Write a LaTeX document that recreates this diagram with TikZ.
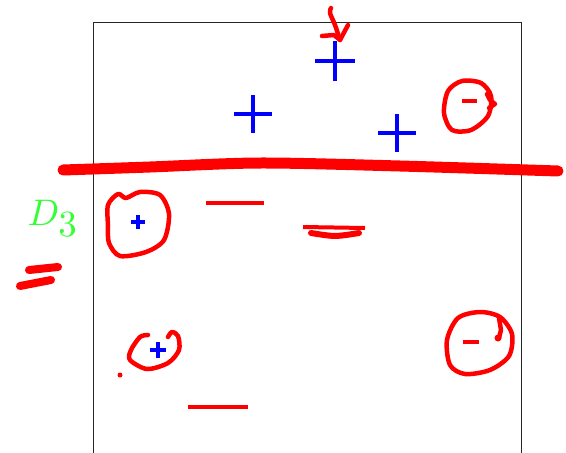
\documentclass[tikz,border=0pt]{standalone}
\usepackage{amsmath}
\usepackage{xcolor}
\usepackage{tikz}
\usetikzlibrary{arrows.meta,calc,positioning}
\definecolor{inkred}{HTML}{FF0000}
\definecolor{inkblue}{HTML}{0000FF}
\definecolor{inkgreen}{HTML}{33FF33}
\tikzset{
  frame/.style={black!85,line width=0.9pt},
  bluemark/.style={inkblue,line width=4pt},
  smallmark/.style={inkblue,line width=3.5pt},
  redstroke/.style={inkred,line width=4.5pt,line cap=round,line join=round},
  thinstroke/.style={inkred,line width=4pt},
  fatstroke/.style={inkred,line width=9pt,line cap=round}
}

\begin{document}
\begin{tikzpicture}[x=1pt,y=-1pt]
\useasboundingbox (0,0) rectangle (566,453);
\draw[frame] (93,460)--(93,22)--(521,22)--(521,460);
% blue pluses
\foreach \x/\y/\s in {335/61/20,253/114/19,397/133/19}{\draw[bluemark] (\x-\s,\y)--(\x+\s,\y) (\x,\y-\s)--(\x,\y+\s);}
\foreach \x/\y/\s in {138/222/7,158/350/8}{\draw[smallmark] (\x-\s,\y)--(\x+\s,\y) (\x,\y-\s)--(\x,\y+\s);}
% separating line
\draw[fatstroke,line width=11pt] plot[smooth] coordinates {(63,170) (150,167) (260,163) (400,166) (558,171)};
% minus marks
\draw[thinstroke] (206,203)--(264,203);
\draw[thinstroke] (188,407)--(248,407);
\draw[thinstroke] (303,227)--(365,228);
\draw[redstroke,line width=6pt] plot[smooth] coordinates {(311,233) (335,236) (359,233)};
\draw[thinstroke] (462,101)--(477,101);
\draw[thinstroke] (463,342)--(479,342);
% circles
\draw[redstroke] plot[smooth cycle] coordinates {(118,194) (126,198) (140,192) (160,195) (169,214) (164,240) (146,252) (120,256) (109,243) (108,226) (108,205)};
\draw[redstroke] plot[smooth cycle] coordinates {(448,91) (462,81) (481,83) (491,96) (488,116) (471,130) (452,130) (444,113)};
\draw[redstroke] (487,94)--(490,100)--(495,104)--(489,108);
\draw[redstroke] plot[smooth cycle] coordinates {(458,318) (480,312) (500,317) (512,334) (509,356) (490,370) (465,374) (450,365) (447,340)};
\draw[redstroke] (499,318)--(501,330)--(499,338);
\fill[inkred] (498,338) circle (3.5);
\draw[redstroke] plot[smooth] coordinates {(148,335) (140,337) (131,350) (130,360) (147,369) (168,363) (179,350) (178,336) (172,332) (168,337)};
\fill[inkred] (120,375) circle (2.5);
% arrow at the top
\draw[redstroke] plot[smooth] coordinates {(331,8) (330,13) (335,25) (340,40)};
\draw[redstroke] (322,36)--(334,35)--(340,40)--(348,25);
% equals sign on the left
\draw[fatstroke,line width=8pt] (29,270)--(58,267);
\draw[fatstroke,line width=8pt] (20,286)--(51,280);
\node[inkgreen,inner sep=0pt,anchor=north west,scale=3.7] (dthree) at (27,199) {$D_{\textstyle 3}$};
\end{tikzpicture}
\end{document}
